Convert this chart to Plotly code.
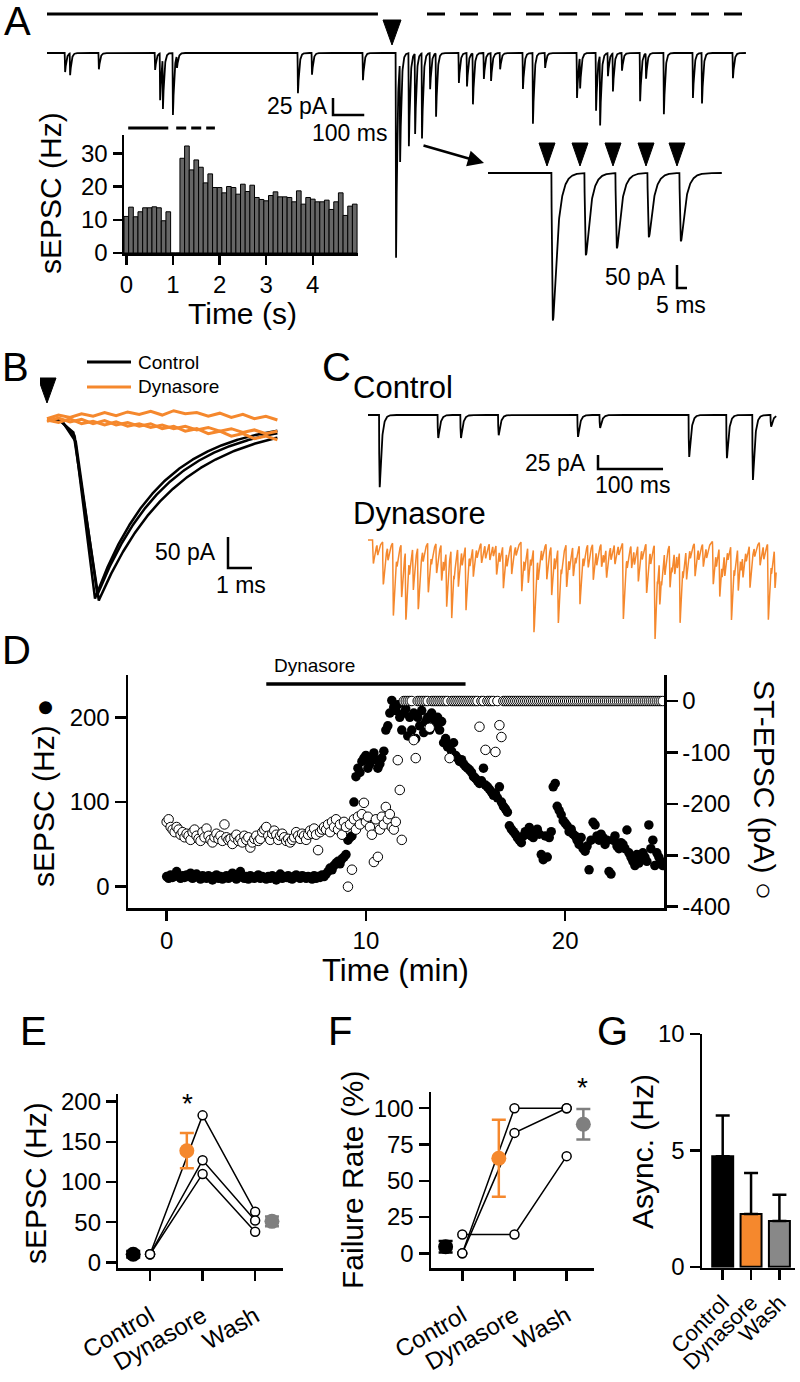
import numpy as np
import plotly.graph_objects as go

W, H = 800, 1382
FONT = "Liberation Sans, Arial, sans-serif"
ORANGE = "#F5882D"
GREY = "#7F7F7F"
HIST_GREY = "#666666"

# ======================= DATA =======================
# --- A: example sweep (EPSC peak time in ms, amplitude in pA)
a_event_ms = [58, 74, 166, 346, 362, 371, 403, 416, 803, 848, 1011,
              1117, 1130, 1158, 1178, 1200, 1226, 1245, 1318, 1344, 1363, 1398, 1421, 1450, 1523, 1555, 1594,
              1696, 1706, 1757, 1770, 1795, 1811, 1840, 1898, 1917, 1974, 2067, 2096, 2195]
a_event_pa = [28, 32, 24, 25, 69, 74, 91, 18, 59, 32, 40,
              301, 147, 137, 118, 125, 53, 93, 44, 49, 75, 38, 41, 24, 53, 104, 22,
              66, 46, 85, 103, 34, 56, 26, 71, 37, 90, 66, 74, 37]
a_stim_ms = [1104]
a_sweep_ms = 2237
a_control_period_ms = [0, 1059]
a_train_period_ms = [1216, 2234]

# --- A inset: expanded stimulus train
inset_event_ms = [32.5, 49, 64.5, 80.5, 96.5]
inset_event_pa = [320, 178, 163, 139, 148]
inset_stim_ms = [29.5, 46, 62.5, 79, 94.5]
inset_sweep_ms = 117

# --- A histogram (0.1 s bins)
hist_time_s = [round(0.1 * i, 1) for i in range(50)]
hist_rate_hz = [11, 13.8, 10.9, 12.4, 13.6, 13.6, 13.9, 13.6, 9.7, 12.4,
                0, 0, 28.5, 32.2, 25, 28, 25.8, 21.1, 23.8, 19.7,
                19.7, 18.1, 20, 19.7, 17.7, 20.7, 18.5, 20.4, 16.7, 16.1,
                15.7, 17.3, 18.4, 16.9, 16.9, 16.7, 15.4, 18.7, 14.7, 16.7,
                16.2, 15.4, 15.4, 15.9, 13.1, 15.4, 18.1, 11.3, 14.1, 14.7]
hist_ctrl_period_s = [0.04, 0.9]
hist_train_period_s = [1.07, 1.9]
hist_xticks = [0, 1, 2, 3, 4]
hist_yticks = [0, 10, 20, 30]

# --- B: evoked EPSCs (3 control sweeps, 3 dynasore sweeps)
b_ctrl_onset_ms = [0.55, 0.6, 0.5]
b_ctrl_knee_ms = [1.15, 1.2, 1.1]
b_ctrl_knee_pa = [25, 35, 20]
b_ctrl_peak_ms = [2.0, 2.1, 2.15]
b_ctrl_peak_pa = [288, 282, 292]
b_ctrl_tau_ms = [2.7, 2.9, 3.2]
b_sweep_ms = 9.6
b_dyn_time_ms = [round(0.48 * i, 2) for i in range(21)]
b_dyn_sweeps_pa = [
    [2, 8, 4, 10, 6, 12, 7, 13, 9, 14, 8, 15, 10, 12, 6, 11, 4, 9, 2, 6, 0],
    [0, -4, 2, -6, -2, -8, -3, -10, -6, -12, -8, -14, -10, -16, -12, -18, -14, -20, -16, -22, -18],
    [-2, 3, -3, 1, -6, -1, -8, -4, -10, -6, -14, -10, -18, -14, -22, -18, -26, -22, -30, -26, -32],
]
b_stim_ms = [0]

# --- C: spontaneous EPSCs
c_sweep_ms = 628
c_ctrl_event_ms = [18, 108, 143, 201, 323, 357, 494, 552, 592, 620]
c_ctrl_event_pa = [129, 41, 41, 36, 39, 23, 75, 77, 116, 21]
c_dyn_event_ms = [8.2, 23.6, 39, 51.8, 58.4, 69.7, 77.4, 92.8, 105.6, 113.3,
                  121, 128.7, 139, 150.7, 162, 174.8, 187.6, 197.9, 208.2, 221,
                  236.4, 246.6, 255.4, 262, 275, 282.5, 292.8, 305.6, 315.9, 326,
                  338.8, 346.5, 359.4, 367, 380, 392.7, 405.5, 415.8, 428.6, 441.4,
                  449, 456.8, 464.5, 472, 480, 490, 503, 515.7, 531, 541,
                  549, 559, 569.5, 577, 587.5, 603, 615.7, 626]
c_dyn_event_pa = [42, 77, 131, 95, 125, 77, 113, 89, 54, 65,
                  101, 125, 71, 116, 54, 36, 30, 54, 77, 54,
                  89, 65, 152, 42, 65, 89, 134, 77, 54, 107,
                  42, 65, 42, 54, 36, 137, 42, 65, 89, 170,
                  83, 42, 77, 42, 131, 54, 60, 42, 77, 89,
                  42, 134, 77, 42, 77, 42, 137, 71]
c_dyn_small_ms = [15, 31, 45, 64, 85, 98, 117, 133, 145, 157,
                  168, 181, 193, 203, 214, 228, 241, 251, 268, 288,
                  298, 310, 320, 332, 352, 363, 374, 386, 399, 410,
                  422, 435, 446, 452, 468, 476, 485, 496, 509, 521,
                  536, 545, 554, 564, 574, 582, 595, 609, 621]
c_dyn_small_pa = [20, 25, 18, 28, 22, 18, 25, 20, 28, 22,
                  18, 25, 20, 22, 28, 18, 25, 20, 22, 28,
                  20, 25, 18, 22, 28, 20, 25, 18, 22, 28,
                  20, 25, 18, 22, 20, 28, 25, 18, 22, 20,
                  25, 28, 18, 22, 25, 20, 18, 25, 22]

# --- D: time course (one point per 0.1 min)
d_time_min = [round(0.1 * i, 1) for i in range(250)]
d_sepsc_hz = [
    12, 10, 14, 11, 13, 18, 12, 10, 13, 11,
    14, 12, 16, 10, 12, 15, 11, 9, 13, 12,
    10, 13, 11, 8, 12, 14, 10, 12, 9, 11,
    13, 10, 12, 16, 11, 9, 12, 18, 11, 10,
    12, 9, 13, 11, 10, 12, 14, 10, 12, 11,
    9, 12, 10, 13, 11, 8, 12, 15, 10, 12,
    11, 13, 10, 9, 12, 14, 11, 10, 13, 12,
    10, 12, 11, 9, 13, 10, 12, 11, 14, 12,
    15, 18, 22, 20, 25, 28, 30, 27, 33, 35,
    38, 55, 58, 60, 100, 130, 140, 135, 148, 152,
    155, 140, 145, 150, 158, 150, 140, 145, 152, 160,
    185, 190, 205, 220, 212, 208, 215, 200, 185, 205,
    210, 178, 200, 185, 205, 175, 200, 190, 208, 182,
    195, 200, 185, 205, 198, 190, 200, 185, 195, 170,
    175, 165, 168, 160, 170, 155, 152, 148, 150, 145,
    142, 140, 138, 135, 130, 128, 125, 122, 125, 140,
    120, 118, 115, 112, 108, 110, 105, 118, 100, 95,
    92, 88, 72, 68, 65, 62, 58, 55, 52, 60,
    65, 62, 70, 60, 58, 65, 68, 62, 38, 32,
    60, 35, 58, 65, 118, 122, 95, 90, 85, 78,
    75, 72, 65, 68, 62, 60, 55, 50, 58, 45,
    42, 48, 20, 55, 76, 73, 60, 55, 62, 58,
    50, 55, 18, 15, 55, 60, 48, 45, 52, 50,
    45, 67, 40, 35, 30, 25, 38, 28, 32, 40,
    35, 30, 73, 45, 55, 25, 40, 35, 30, 25]
d_st_epsc_pa = [
    -235, -230, -245, -250, -255, -245, -250, -260, -255, -265,
    -258, -262, -270, -255, -250, -262, -268, -272, -255, -265,
    -248, -262, -270, -275, -265, -258, -268, -262, -272, -240,
    -265, -270, -268, -278, -265, -260, -272, -268, -275, -262,
    -270, -265, -285, -275, -268, -262, -272, -268, -255, -250,
    -245, -262, -270, -258, -252, -260, -270, -262, -258, -265,
    -272, -268, -275, -270, -265, -255, -262, -268, -258, -262,
    -270, -260, -252, -258, -248, -260, -290, -255, -250, -245,
    -250, -240, -255, -235, -245, -230, -250, -240, -260, -235,
    -245, -361, -240, -328, -230, -250, -225, -240, -220, -198,
    -235, -225, -245, -260, -313, -230, -303, -250, -225, -240,
    -206, -230, -220, -245, -250, -235, -115, -173, -270, 0,
    0, 0, 0, 0, -76, -111, 0, 0, 0, 0,
    0, 0, -52, 0, 0, 0, 0, 0, 0, 0,
    0, 0, -111, 0, 0, 0, 0, 0, 0, 0,
    0, 0, 0, 0, 0, 0, 0, -50, 0, 0,
    -95, 0, 0, 0, 0, -99, 0, -47, -70, 0,
    0, 0, 0, 0, 0, 0, 0, 0, 0, 0,
    0, 0, 0, 0, 0, 0, 0, 0, 0, 0,
    0, 0, 0, 0, 0, 0, 0, 0, 0, 0,
    0, 0, 0, 0, 0, 0, 0, 0, 0, 0,
    0, 0, 0, 0, 0, 0, 0, 0, 0, 0,
    0, 0, 0, 0, 0, 0, 0, 0, 0, 0,
    0, 0, 0, 0, 0, 0, 0, 0, 0, 0,
    0, 0, 0, 0, 0, 0, 0, 0, 0, 0]
d_dynasore_period_min = [5, 15]
d_xticks = [0, 10, 20]
d_left_ticks = [0, 100, 200]
d_right_ticks = [0, -100, -200, -300, -400]

# --- E, F, G: summary
conditions = ["Control", "Dynasore", "Wash"]
cond_pos = [1, 2, 3]
e_cells_hz = [[10, 183, 63], [10, 127, 52], [10, 110, 38]]
e_mean_hz = [10, 139, 51]
e_sem_hz = [4, 22, 6]
f_cells_pct = [[0, 100, 100], [0, 83, 100], [13, 13, 67]]
f_mean_pct = [4.5, 65.5, 89]
f_sem_pct = [4, 26.5, 10.5]
g_mean_hz = [4.75, 2.27, 1.97]
g_sem_hz = [1.75, 1.76, 1.12]

# ======================= HELPERS =======================
def frame(x0px, ms_per_px, base_px, pa_per_px, dom_x, dom_y):
    left, right = dom_x
    top, bottom = dom_y
    return dict(x0=x0px, mpp=ms_per_px, base=base_px, ppp=pa_per_px,
                xdom=[left / W, right / W], ydom=[1 - bottom / H, 1 - top / H],
                xr=[(left - x0px) * ms_per_px, (right - x0px) * ms_per_px],
                yr=[-(bottom - base_px) * pa_per_px, (base_px - top) * pa_per_px])


def tx(f, px):
    return (px - f['x0']) * f['mpp']


def ty(f, py):
    return (f['base'] - py) * f['ppp']


def epsc_sum(t, peaks, amps, tau_r, tau_d):
    tp = tau_r * np.log((tau_r + tau_d) / tau_r)
    norm = (1 - np.exp(-tp / tau_r)) * np.exp(-tp / tau_d)
    y = np.zeros_like(t)
    for tk, a in zip(peaks, amps):
        s = t - (tk - tp)
        m = s > 0
        y[m] -= a * (1 - np.exp(-s[m] / tau_r)) * np.exp(-s[m] / tau_d) / norm
    return y


def tri_xy(f, t_list, top_px, tip_px, half_w_px):
    xs, ys = [], []
    hw = half_w_px * f['mpp']
    for t in t_list:
        xs += [t - hw, t + hw, t, t - hw, None]
        ys += [ty(f, top_px), ty(f, top_px), ty(f, tip_px), ty(f, top_px), None]
    return xs, ys


def scalebar(f, xa, ya, corner_px, dy_pa, dx_ms, width=2.5):
    cx, cy = tx(f, corner_px[0]), ty(f, corner_px[1])
    return dict(type='path', xref=xa, yref=ya,
                path=f"M {cx},{cy + dy_pa} L {cx},{cy} L {cx + dx_ms},{cy}",
                line=dict(color='black', width=width))


def txt(x, y, s, size, xanchor='center', yanchor='middle', angle=0):
    return dict(x=x / W, y=1 - y / H, xref='paper', yref='paper', text=s, showarrow=False,
                xanchor=xanchor, yanchor=yanchor, textangle=angle,
                font=dict(family=FONT, size=size, color='black'))


def hidden(f, xname, yname):
    return dict(domain=f['xdom'], range=f['xr'], visible=False, fixedrange=True, anchor=yname), \
           dict(domain=f['ydom'], range=f['yr'], visible=False, fixedrange=True, anchor=xname)


def axstyle(**kw):
    base = dict(showline=True, linecolor='black', linewidth=2.5, ticks='outside', ticklen=9,
                tickwidth=2.5, tickcolor='black', showgrid=False, zeroline=False, fixedrange=True,
                automargin=False, tickfont=dict(family=FONT, size=24, color='black'))
    base.update(kw)
    return base

# ======================= FRAMES =======================
fA = frame(47, 3.2, 53, 1.47, (47, 748), (5, 270))
fI = frame(488, 0.5, 173, 2.17, (488, 722), (138, 325))
fB = frame(47, 1 / 24, 420, 1.613, (40, 290), (372, 612))
fC = frame(368, 1.538, 415, 1.786, (366, 778), (400, 495))
fD = frame(368, 1.538, 540, 1.786, (366, 778), (525, 648))

fig = go.Figure()
shapes, annos = [], []

# ---- A top sweep
tA = np.arange(0, a_sweep_ms, 0.5)
fig.add_trace(go.Scatter(x=tA, y=epsc_sum(tA, a_event_ms, a_event_pa, 0.5, 4.0), mode='lines',
                         line=dict(color='black', width=1.8), xaxis='x', yaxis='y'))
xs, ys = tri_xy(fA, a_stim_ms, 20, 45, 9)
fig.add_trace(go.Scatter(x=xs, y=ys, fill='toself', fillcolor='black', mode='lines',
                         line=dict(color='black', width=1), xaxis='x', yaxis='y'))
shapes.append(dict(type='line', xref='x', yref='paper', x0=a_control_period_ms[0], x1=a_control_period_ms[1],
                   y0=1 - 14 / H, y1=1 - 14 / H, line=dict(color='black', width=3)))
shapes.append(dict(type='line', xref='x', yref='paper', x0=a_train_period_ms[0], x1=a_train_period_ms[1],
                   y0=1 - 14 / H, y1=1 - 14 / H, line=dict(color='black', width=3, dash='18px,15px')))
shapes.append(scalebar(fA, 'x', 'y', (333, 115), 25, 100))
annos.append(txt(330, 106, "25 pA", 23, xanchor='right'))
annos.append(txt(349, 133, "100 ms", 23))

# ---- A inset train
tI = np.arange(0, inset_sweep_ms, 0.1)
fig.add_trace(go.Scatter(x=tI, y=epsc_sum(tI, inset_event_ms, inset_event_pa, 0.4, 2.3), mode='lines',
                         line=dict(color='black', width=1.8), xaxis='x3', yaxis='y3'))
xs, ys = tri_xy(fI, inset_stim_ms, 143, 166, 8)
fig.add_trace(go.Scatter(x=xs, y=ys, fill='toself', fillcolor='black', mode='lines',
                         line=dict(color='black', width=1), xaxis='x3', yaxis='y3'))
shapes.append(scalebar(fI, 'x3', 'y3', (677, 288), 50, 5))
annos.append(txt(668, 277, "50 pA", 23, xanchor='right'))
annos.append(txt(681, 305, "5 ms", 23))
annos.append(dict(x=484 / W, y=1 - 163 / H, xref='paper', yref='paper', ax=-62, ay=-18,
                  axref='pixel', ayref='pixel', showarrow=True, arrowhead=2, arrowsize=1.3,
                  arrowwidth=2.5, arrowcolor='black', text=''))

# ---- A histogram
fig.add_trace(go.Bar(x=hist_time_s, y=hist_rate_hz, width=0.1, marker=dict(color=HIST_GREY,
                     line=dict(color='black', width=1)), xaxis='x2', yaxis='y2'))
shapes.append(dict(type='line', xref='x2', yref='paper', x0=hist_ctrl_period_s[0], x1=hist_ctrl_period_s[1],
                   y0=1 - 128 / H, y1=1 - 128 / H, line=dict(color='black', width=3)))
shapes.append(dict(type='line', xref='x2', yref='paper', x0=hist_train_period_s[0], x1=hist_train_period_s[1],
                   y0=1 - 128 / H, y1=1 - 128 / H, line=dict(color='black', width=3, dash='10px,5px')))
annos.append(txt(50, 193, "sEPSC (Hz)", 30, angle=-90))
annos.append(txt(242, 313, "Time (s)", 30))

# ---- B
tB = np.arange(0, b_sweep_ms + 0.001, 0.02)
for on, kt, ka, pt, pa, tau in zip(b_ctrl_onset_ms, b_ctrl_knee_ms, b_ctrl_knee_pa,
                                   b_ctrl_peak_ms, b_ctrl_peak_pa, b_ctrl_tau_ms):
    rise = np.interp(tB, [0, on, kt, pt], [0, 0, -ka, -pa])
    yB = np.where(tB <= pt, rise, -pa * np.exp(-(tB - pt) / tau))
    fig.add_trace(go.Scatter(x=tB, y=yB, mode='lines', line=dict(color='black', width=2.5),
                             xaxis='x4', yaxis='y4'))
for sw in b_dyn_sweeps_pa:
    fig.add_trace(go.Scatter(x=b_dyn_time_ms, y=sw, mode='lines', line=dict(color=ORANGE, width=3),
                             xaxis='x4', yaxis='y4'))
xs, ys = tri_xy(fB, b_stim_ms, 378, 403, 9)
fig.add_trace(go.Scatter(x=xs, y=ys, fill='toself', fillcolor='black', mode='lines',
                         line=dict(color='black', width=1), xaxis='x4', yaxis='y4'))
shapes.append(scalebar(fB, 'x4', 'y4', (228, 568), 50, 1))
annos.append(txt(218, 552, "50 pA", 23, xanchor='right'))
annos.append(txt(241, 585, "1 ms", 23))
shapes.append(dict(type='line', xref='paper', yref='paper', x0=87 / W, x1=131 / W, y0=1 - 362 / H, y1=1 - 362 / H,
                   line=dict(color='black', width=3)))
shapes.append(dict(type='line', xref='paper', yref='paper', x0=87 / W, x1=131 / W, y0=1 - 387 / H, y1=1 - 387 / H,
                   line=dict(color=ORANGE, width=3)))
annos.append(txt(136, 362, "Control", 19, xanchor='left'))
annos.append(txt(136, 387, "Dynasore", 19, xanchor='left'))

# ---- C
tC = np.arange(0, c_sweep_ms, 0.25)
fig.add_trace(go.Scatter(x=tC, y=epsc_sum(tC, c_ctrl_event_ms, c_ctrl_event_pa, 0.5, 3.0), mode='lines',
                         line=dict(color='black', width=1.8), xaxis='x5', yaxis='y5'))
fig.add_trace(go.Scatter(x=tC, y=epsc_sum(tC, c_dyn_event_ms + c_dyn_small_ms, c_dyn_event_pa + c_dyn_small_pa,
                                          0.5, 3.5), mode='lines',
                         line=dict(color=ORANGE, width=1.5), xaxis='x6', yaxis='y6'))
shapes.append(scalebar(fC, 'x5', 'y5', (598, 469), 25, 100))
annos.append(txt(588, 463, "25 pA", 23, xanchor='right'))
annos.append(txt(632, 485, "100 ms", 23))
annos.append(txt(351, 388, "Control", 31, xanchor='left'))
annos.append(txt(351, 513, "Dynasore", 31, xanchor='left'))

# ---- D
fig.add_trace(go.Scatter(x=d_time_min, y=d_sepsc_hz, mode='markers',
                         marker=dict(size=9.5, color='black', line=dict(width=0)), xaxis='x7', yaxis='y7'))
fig.add_trace(go.Scatter(x=d_time_min, y=d_st_epsc_pa, mode='markers',
                         marker=dict(size=9.5, color='white', line=dict(color='black', width=1)),
                         xaxis='x7', yaxis='y8'))
shapes.append(dict(type='line', xref='x7', yref='paper', x0=d_dynasore_period_min[0], x1=d_dynasore_period_min[1],
                   y0=1 - 684 / H, y1=1 - 684 / H, line=dict(color='black', width=3.5)))
annos.append(dict(x=d_dynasore_period_min[0] + 0.3, y=1 - 665 / H, xref='x7', yref='paper', text="Dynasore",
                  showarrow=False, xanchor='left', yanchor='middle', font=dict(family=FONT, size=19, color='black')))
annos.append(txt(43, 793, "sEPSC (Hz) \u25CF", 30, angle=-90))
annos.append(txt(765, 790, "ST-EPSC (pA) \u25CB", 30, angle=90))
annos.append(txt(395, 970, "Time (min)", 31))

# ---- E
for cell in e_cells_hz:
    fig.add_trace(go.Scatter(x=cond_pos, y=cell, mode='lines+markers', line=dict(color='black', width=1.5),
                             marker=dict(size=9, color='white', line=dict(color='black', width=1.5)),
                             xaxis='x8', yaxis='y9'))
mean_offsets = [-0.32, -0.3, 0.32]
mean_colors = ['black', ORANGE, GREY]
for i in range(3):
    fig.add_trace(go.Scatter(x=[cond_pos[i] + mean_offsets[i]], y=[e_mean_hz[i]], mode='markers',
                             marker=dict(size=15, color=mean_colors[i]),
                             error_y=dict(type='data', array=[e_sem_hz[i]], color=mean_colors[i], thickness=2.5, width=7),
                             xaxis='x8', yaxis='y9'))
annos.append(txt(187, 1103, "*", 28))
annos.append(txt(35, 1183, "sEPSC (Hz)", 30, angle=-90))

# ---- F
for cell in f_cells_pct:
    fig.add_trace(go.Scatter(x=cond_pos, y=cell, mode='lines+markers', line=dict(color='black', width=1.5),
                             marker=dict(size=9, color='white', line=dict(color='black', width=1.5)),
                             xaxis='x9', yaxis='y10'))
for i in range(3):
    fig.add_trace(go.Scatter(x=[cond_pos[i] + mean_offsets[i]], y=[f_mean_pct[i]], mode='markers',
                             marker=dict(size=15, color=mean_colors[i]),
                             error_y=dict(type='data', array=[f_sem_pct[i]], color=mean_colors[i], thickness=2.5, width=7),
                             xaxis='x9', yaxis='y10'))
annos.append(txt(582, 1087, "*", 28))
annos.append(txt(352, 1180, "Failure Rate (%)", 30, angle=-90))

# ---- G
fig.add_trace(go.Bar(x=cond_pos, y=g_mean_hz, width=0.74,
                     marker=dict(color=['black', ORANGE, '#888888'], line=dict(color='black', width=2)),
                     error_y=dict(type='data', array=g_sem_hz, arrayminus=[0, 0, 0], color='black',
                                  thickness=2.5, width=7),
                     xaxis='x10', yaxis='y11'))
annos.append(txt(642, 1152, "Async. (Hz)", 30, angle=-90))

# ---- panel letters
for letter, (lx, ly) in {"A": (17, 21), "B": (15, 367), "C": (336, 367), "D": (16, 650),
                         "E": (33, 1031), "F": (340, 1031), "G": (612, 1031)}.items():
    annos.append(txt(lx, ly, letter, 40))

# ======================= LAYOUT =======================
layout = dict(width=W, height=H, margin=dict(l=0, r=0, t=0, b=0, pad=0, autoexpand=False),
              paper_bgcolor='white', plot_bgcolor='rgba(0,0,0,0)', showlegend=False,
              font=dict(family=FONT, color='black'), bargap=0, shapes=shapes, annotations=annos)

layout['xaxis'], layout['yaxis'] = hidden(fA, 'x', 'y')
layout['xaxis3'], layout['yaxis3'] = hidden(fI, 'x3', 'y3')
layout['xaxis4'], layout['yaxis4'] = hidden(fB, 'x4', 'y4')
layout['xaxis5'], layout['yaxis5'] = hidden(fC, 'x5', 'y5')
layout['xaxis6'], layout['yaxis6'] = hidden(fD, 'x6', 'y6')


def xdom(a, b):
    return [a / W, b / W]


def ydom(top, bottom):
    return [1 - bottom / H, 1 - top / H]


layout['xaxis2'] = axstyle(domain=xdom(124, 358), range=[-0.05, 4.97], tickvals=hist_xticks, anchor='y2')
layout['yaxis2'] = axstyle(domain=ydom(135, 253), range=[0, 35.5], tickvals=hist_yticks, anchor='x2')

layout['xaxis7'] = axstyle(domain=xdom(128, 664), range=[-1.94, 24.96], tickvals=d_xticks, anchor='y7', ticklen=10)
layout['yaxis7'] = axstyle(domain=ydom(675, 908), range=[-25.1, 250], tickvals=d_left_ticks, anchor='x7', ticklen=11)
layout['yaxis8'] = axstyle(domain=ydom(675, 908), range=[-402.5, 50.6], tickvals=d_right_ticks,
                           ticktext=[str(v) for v in d_right_ticks], anchor='x7', overlaying='y7',
                           side='right', ticklen=11)

cat_font = dict(family=FONT, size=24, color='black')
g_cat_font = dict(family=FONT, size=22, color='black')
layout['xaxis8'] = axstyle(domain=xdom(118.3, 283), range=[0.396, 3.53], tickvals=cond_pos, ticktext=conditions,
                           tickangle=-30, anchor='y9', ticklen=10, tickfont=cat_font, ticklabelstandoff=12)
layout['yaxis9'] = axstyle(domain=ydom(1094, 1268.3), range=[-7.5, 209.6], tickvals=[0, 50, 100, 150, 200],
                           anchor='x8', ticklen=10)
layout['xaxis9'] = axstyle(domain=xdom(431, 594.3), range=[0.40, 3.53], tickvals=cond_pos, ticktext=conditions,
                           tickangle=-30, anchor='y10', ticklen=10, tickfont=cat_font, ticklabelstandoff=12)
layout['yaxis10'] = axstyle(domain=ydom(1091.7, 1268), range=[-10.1, 111.4], tickvals=[0, 25, 50, 75, 100],
                            anchor='x9', ticklen=10)
layout['xaxis10'] = axstyle(domain=xdom(702, 795), range=[0.27, 3.55], tickvals=cond_pos, ticktext=conditions,
                            tickangle=-45, anchor='y11', ticklen=10, tickfont=g_cat_font, ticklabelstandoff=1)
layout['yaxis11'] = axstyle(domain=ydom(1034, 1267.7), range=[-0.04, 10], tickvals=[0, 5, 10],
                            anchor='x10', ticklen=10)

fig.update_layout(**layout)
fig.write_html("out.html", config={'displayModeBar': False, 'staticPlot': True},
               post_script="document.body.style.margin='0px';document.body.style.padding='0px';"
                           "document.body.style.overflow='hidden';"
                           "document.documentElement.style.overflow='hidden';")
